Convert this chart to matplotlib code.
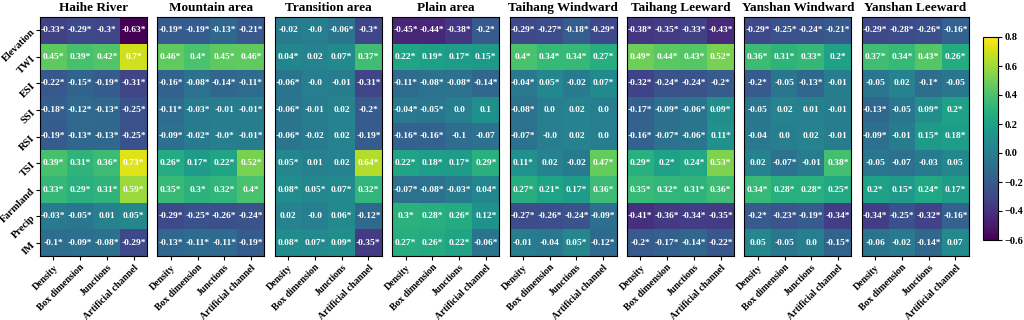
import numpy as np
import matplotlib
matplotlib.use("Agg")
import matplotlib.pyplot as plt
from matplotlib import cm
from matplotlib.colors import Normalize

plt.rcParams['font.family'] = ['Liberation Serif', 'DejaVu Serif']
plt.rcParams['font.weight'] = 'bold'

rows = ['Elevation', 'TWI', 'ESI', 'SSI', 'RSI', 'TSI', 'Farmland', 'Precip', 'IM']
cols = ['Density', 'Box dimension', 'Junctions', 'Artificial channel']
titles = ['Haihe River', 'Mountain area', 'Transition area', 'Plain area',
          'Taihang Windward', 'Taihang Leeward', 'Yanshan Windward', 'Yanshan Leeward']

# Annotated correlation values ('*' marks significance)
haihe = [["-0.33*", "-0.29*", "-0.3*", "-0.63*"],
         ["0.45*", "0.39*", "0.42*", "0.7*"],
         ["-0.22*", "-0.15*", "-0.19*", "-0.31*"],
         ["-0.18*", "-0.12*", "-0.13*", "-0.25*"],
         ["-0.19*", "-0.13*", "-0.13*", "-0.25*"],
         ["0.39*", "0.31*", "0.36*", "0.73*"],
         ["0.33*", "0.29*", "0.31*", "0.59*"],
         ["-0.03*", "-0.05*", "0.01", "0.05*"],
         ["-0.1*", "-0.09*", "-0.08*", "-0.29*"]]
mountain = [["-0.19*", "-0.19*", "-0.13*", "-0.21*"],
            ["0.46*", "0.4*", "0.45*", "0.46*"],
            ["-0.16*", "-0.08*", "-0.14*", "-0.11*"],
            ["-0.11*", "-0.03*", "-0.01", "-0.01*"],
            ["-0.09*", "-0.02*", "-0.0*", "-0.01*"],
            ["0.26*", "0.17*", "0.22*", "0.52*"],
            ["0.35*", "0.3*", "0.32*", "0.4*"],
            ["-0.29*", "-0.25*", "-0.26*", "-0.24*"],
            ["-0.13*", "-0.11*", "-0.11*", "-0.19*"]]
transition = [["-0.02", "-0.0", "-0.06*", "-0.3*"],
              ["0.04*", "0.02", "0.07*", "0.37*"],
              ["-0.06*", "-0.0", "-0.01", "-0.31*"],
              ["-0.06*", "-0.01", "0.02", "-0.2*"],
              ["-0.06*", "-0.02", "0.02", "-0.19*"],
              ["0.05*", "0.01", "0.02", "0.64*"],
              ["0.08*", "0.05*", "0.07*", "0.32*"],
              ["0.02", "-0.0", "0.06*", "-0.12*"],
              ["0.08*", "0.07*", "0.09*", "-0.35*"]]
plain = [["-0.45*", "-0.44*", "-0.38*", "-0.2*"],
         ["0.22*", "0.19*", "0.17*", "0.15*"],
         ["-0.11*", "-0.08*", "-0.08*", "-0.14*"],
         ["-0.04*", "-0.05*", "0.0", "0.1"],
         ["-0.16*", "-0.16*", "-0.1", "-0.07"],
         ["0.22*", "0.18*", "0.17*", "0.29*"],
         ["-0.07*", "-0.08*", "-0.03*", "0.04*"],
         ["0.3*", "0.28*", "0.26*", "0.12*"],
         ["0.27*", "0.26*", "0.22*", "-0.06*"]]
taihang_windward = [["-0.29*", "-0.27*", "-0.18*", "-0.29*"],
                    ["0.4*", "0.34*", "0.34*", "0.27*"],
                    ["-0.04*", "0.05*", "-0.02", "0.07*"],
                    ["-0.08*", "0.0", "0.02", "0.0"],
                    ["-0.07*", "-0.0", "0.02", "0.0"],
                    ["0.11*", "0.02", "-0.02", "0.47*"],
                    ["0.27*", "0.21*", "0.17*", "0.36*"],
                    ["-0.27*", "-0.26*", "-0.24*", "-0.09*"],
                    ["-0.01", "-0.04", "0.05*", "-0.12*"]]
taihang_leeward = [["-0.38*", "-0.35*", "-0.33*", "-0.43*"],
                   ["0.49*", "0.44*", "0.43*", "0.52*"],
                   ["-0.32*", "-0.24*", "-0.24*", "-0.2*"],
                   ["-0.17*", "-0.09*", "-0.06*", "0.09*"],
                   ["-0.16*", "-0.07*", "-0.06*", "0.11*"],
                   ["0.29*", "0.2*", "0.24*", "0.53*"],
                   ["0.35*", "0.32*", "0.31*", "0.36*"],
                   ["-0.41*", "-0.36*", "-0.34*", "-0.35*"],
                   ["-0.2*", "-0.17*", "-0.14*", "-0.22*"]]
yanshan_windward = [["-0.29*", "-0.25*", "-0.24*", "-0.21*"],
                    ["0.36*", "0.31*", "0.33*", "0.2*"],
                    ["-0.2*", "-0.05", "-0.13*", "-0.01"],
                    ["-0.05", "0.02", "0.01", "-0.01"],
                    ["-0.04", "0.0", "0.02", "-0.01"],
                    ["0.02", "-0.07*", "-0.01", "0.38*"],
                    ["0.34*", "0.28*", "0.28*", "0.25*"],
                    ["-0.2*", "-0.23*", "-0.19*", "-0.34*"],
                    ["0.05", "-0.05", "0.0", "-0.15*"]]
yanshan_leeward = [["-0.29*", "-0.28*", "-0.26*", "-0.16*"],
                   ["0.37*", "0.34*", "0.43*", "0.26*"],
                   ["-0.05", "0.02", "-0.1*", "-0.05"],
                   ["-0.13*", "-0.05", "0.09*", "0.2*"],
                   ["-0.09*", "-0.01", "0.15*", "0.18*"],
                   ["-0.05", "-0.07", "-0.03", "0.05"],
                   ["0.2*", "0.15*", "0.24*", "0.17*"],
                   ["-0.34*", "-0.25*", "-0.32*", "-0.16*"],
                   ["-0.06", "-0.02", "-0.14*", "0.07"]]

panels = [haihe, mountain, transition, plain,
          taihang_windward, taihang_leeward, yanshan_windward, yanshan_leeward]

VMIN, VMAX = -0.6, 0.8
cmap = plt.get_cmap('viridis')
norm = Normalize(VMIN, VMAX)

W, H = 1024, 320
fig = plt.figure(figsize=(W / 100, H / 100), dpi=100)

left0 = 40
step = 117.4
pw = 107
top = 17
bot = 256

for i, (title, labels) in enumerate(zip(titles, panels)):
    vals = np.array([[float(s.rstrip('*')) for s in r] for r in labels])
    x0 = left0 + i * step
    ax = fig.add_axes([x0 / W, 1 - bot / H, pw / W, (bot - top) / H])
    ax.imshow(vals, cmap=cmap, norm=norm, aspect='auto', interpolation='nearest')
    for r in range(vals.shape[0]):
        for c in range(vals.shape[1]):
            ax.text(c, r, labels[r][c], ha='center', va='center', color='white',
                    fontsize=6.8, fontweight='bold')
    ax.set_title(title, fontsize=9.5, fontweight='bold', pad=4)
    ax.set_xticks(range(len(cols)))
    ax.set_xticklabels(cols, rotation=45, ha='right', rotation_mode='anchor',
                       fontsize=7, fontweight='bold')
    ax.set_yticks(range(len(rows)))
    ax.tick_params(axis='both', length=3, width=0.8, pad=2)
    if i == 0:
        ax.set_yticklabels(rows, rotation=45, ha='right', rotation_mode='anchor',
                           fontsize=7.5, fontweight='bold')
    else:
        ax.set_yticklabels([])
        ax.tick_params(axis='y', length=0)
    for s in ax.spines.values():
        s.set_linewidth(0.8)

cax = fig.add_axes([983 / W, 1 - 240 / H, 15 / W, (240 - 37) / H])
cb = fig.colorbar(cm.ScalarMappable(norm=norm, cmap=cmap), cax=cax)
cb.set_ticks([-0.6, -0.4, -0.2, 0.0, 0.2, 0.4, 0.6, 0.8])
cb.ax.tick_params(labelsize=7.5, length=3, width=0.8, pad=2)
for t in cb.ax.get_yticklabels():
    t.set_fontweight('bold')
cb.outline.set_linewidth(0.8)

fig.savefig('out.png', dpi=100)
